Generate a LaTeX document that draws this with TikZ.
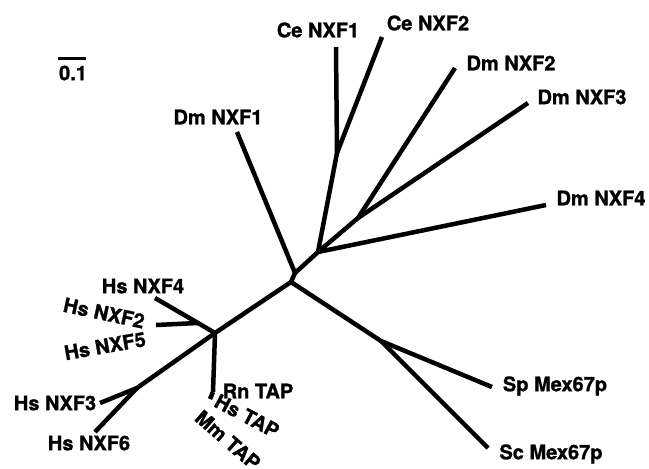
\documentclass[tikz,border=0pt]{standalone}
\usepackage{fontspec}
\setmainfont{TeX Gyre Heros}[BoldFeatures={FakeBold=1.2}]
\begin{document}
\begin{tikzpicture}[x=1pt,y=-1pt,
  br/.style={line width=4.5pt, line cap=butt, line join=round},
  lab/.style={font=\bfseries\fontsize{20}{20}\selectfont, inner sep=0pt}]
\useasboundingbox (0,0) rectangle (649,469);
% internal nodes
\coordinate (R) at (291,282);
\coordinate (H) at (295,273);
\coordinate (A) at (318,252);
\coordinate (B) at (337,153);
\coordinate (C) at (358,218);
\coordinate (D) at (381,341);
\coordinate (E) at (215,333);
\coordinate (F) at (198,323);
\coordinate (G) at (137,388);
\coordinate (T) at (213,392);
% leaves
\coordinate (ce1) at (336,47);
\coordinate (ce2) at (382,37);
\coordinate (dm1) at (237,132);
\coordinate (dm2) at (455,68);
\coordinate (dm3) at (528,103);
\coordinate (dm4) at (546,205);
\coordinate (sp) at (492,387);
\coordinate (sc) at (488,448);
\coordinate (hs4) at (155,298);
\coordinate (hs2) at (156,325);
\coordinate (hs3) at (100,403);
\coordinate (hs6) at (95,432);
\coordinate (hstap) at (210,399);
% branches
\draw[br] (R) -- (H);
\draw[br] (H) -- (A);
\draw[br] (H) -- (dm1);
\draw[br] (A) -- (B);
\draw[br] (B) -- (ce1);
\draw[br] (B) -- (ce2);
\draw[br] (A) -- (C);
\draw[br] (C) -- (dm2);
\draw[br] (C) -- (dm3);
\draw[br] (A) -- (dm4);
\draw[br] (R) -- (D);
\draw[br] (D) -- (sp);
\draw[br] (D) -- (sc);
\draw[br] (R) -- (E);
\draw[br] (E) -- (F);
\draw[br] (F) -- (hs4);
\draw[br] (F) -- (hs2);
\draw[br] (E) -- (T);
\draw[br] (T) -- (hstap);
\draw[br] (E) -- (G);
\draw[br] (G) -- (hs3);
\draw[br] (G) -- (hs6);
% labels
\node[lab] (lce1) at (318,30) {Ce NXF1};
\node[lab] (lce2) at (428,23) {Ce NXF2};
\node[lab] (ldm1) at (218,117) {Dm NXF1};
\node[lab] (ldm2) at (511,63) {Dm NXF2};
\node[lab] (ldm3) at (582,97) {Dm NXF3};
\node[lab] (ldm4) at (601,198) {Dm NXF4};
\node[lab] (lsp) at (555,386) {Sp Mex67p};
\node[lab] (lsc) at (551,454) {Sc Mex67p};
\node[lab] (lhs4) at (143,286) {Hs NXF4};
\node[lab, rotate=-12] (lhs2) at (104,313) {Hs NXF2};
\node[lab, rotate=10] (lhs5) at (105,346) {Hs NXF5};
\node[lab] (lhs3) at (55,403) {Hs NXF3};
\node[lab] (lhs6) at (89,443) {Hs NXF6};
\node[lab] (lrn) at (258,391) {Rn TAP};
\node[lab, rotate=-28] (lhstap) at (247,416) {Hs TAP};
\node[lab, rotate=-41] (lmm) at (228,440) {Mm TAP};
% scale bar
\coordinate (sb1) at (58,58.5);
\coordinate (sb2) at (86,58.5);
\draw[line width=3.5pt] (sb1) -- (sb2);
\node[lab] (lscale) at (73,73) {0.1};
\end{tikzpicture}
\end{document}
